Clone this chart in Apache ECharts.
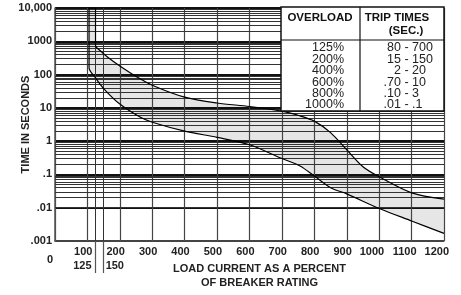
<!DOCTYPE html>
<html lang="en">
<head>
  <meta charset="UTF-8">
  <title>Trip curve</title>
  <style>
    html, body { margin: 0; padding: 0; background: #fff; }
    #chart { width: 461px; height: 295px; }
  </style>
  <script src="https://cdn.jsdelivr.net/npm/echarts@6/dist/echarts.min.js"></script>
</head>
<body>
  <div id="chart"></div>
  <script>
    // maximum trip time (load %, seconds)
    var upperCurve = [
      [105, 10000], [125, 10000], [125, 750], [140, 520], [160, 350], [200, 180], [250, 88],
      [300, 48], [400, 21], [500, 14], [600, 11], [700, 8], [750, 6], [800, 4], [850, 1.8],
      [900, 0.55], [950, 0.17], [1000, 0.085], [1100, 0.028], [1200, 0.018]
    ];
    // minimum trip time
    var lowerCurve = [
      [105, 10000], [105, 160], [125, 80], [150, 38], [200, 13], [262, 5.3], [300, 3.7],
      [400, 2.0], [500, 1.3], [600, 0.78], [700, 0.3], [756, 0.18], [800, 0.09], [850, 0.04],
      [900, 0.026], [1000, 0.0095], [1100, 0.004], [1200, 0.0017]
    ];
    var yTickLabels = ['.001', '.01', '.1', '1', '10', '100', '1000', '10,000'];
    var xTickValues = [100, 200, 300, 400, 500, 600, 700, 800, 900, 1000, 1100, 1200];
    var extraXTicks = [125, 150];
    var overloadLabels = ['125%', '200%', '400%', '600%', '800%', '1000%'];
    var tripMin = ['80', '15', '2', '.70', '.10', '.01'];
    var tripMax = ['700', '150', '20', '10', '3', '.1'];

    var font = 'Liberation Sans, Arial, sans-serif';
    var boldFont = 'bold 11px ' + font;

    // minor log grid lines + the 125 / 150 verticals
    var gridLines = [];
    for (var k = -3; k < 4; k++) {
      for (var m = 2; m < 10; m++) {
        gridLines.push({ yAxis: m * Math.pow(10, k) });
      }
    }
    extraXTicks.forEach(function (v) { gridLines.push({ xAxis: v }); });

    var chart = echarts.init(document.getElementById('chart'), null, { renderer: 'canvas' });
    chart.setOption({
      animation: false,
      backgroundColor: '#fff',
      grid: { left: 55, right: 17, top: 8, bottom: 54, outerBoundsMode: 'none', containLabel: false },
      xAxis: [{
        type: 'value', min: 0, max: 1200, interval: 100, z: 3,
        axisLine: { lineStyle: { color: '#555', width: 1.5 } },
        axisTick: { show: false },
        axisLabel: { show: false },
        splitLine: { lineStyle: { color: '#444', width: 1.2 } },
        name: 'LOAD CURRENT AS A PERCENT\nOF BREAKER RATING',
        nameLocation: 'middle', nameGap: 21, nameMoveOverlap: false,
        nameTextStyle: { fontFamily: font, fontWeight: 'bold', fontSize: 11, color: '#222', lineHeight: 14, padding: [0, 0, 0, 20] }
      }, {
        type: 'value', min: 0, max: 1200, position: 'bottom', z: 3,
        axisLine: { show: false },
        splitLine: { show: false },
        axisLabel: { show: false },
        axisTick: { show: true, customValues: extraXTicks, length: 32, lineStyle: { color: '#555', width: 1.2 } }
      }],
      yAxis: {
        type: 'log', logBase: 10, min: 0.001, max: 10000, z: 3,
        axisLine: { show: true, lineStyle: { color: '#555', width: 1.5 } },
        axisTick: { show: false },
        splitLine: { lineStyle: { color: '#111', width: 2 } },
        axisLabel: {
          margin: 3, fontFamily: font, fontWeight: 'bold', fontSize: 11, color: '#222',
          formatter: function (v) { return yTickLabels[Math.round(Math.log10(v)) + 3]; }
        },
        name: 'TIME IN SECONDS', nameLocation: 'middle', nameGap: 24, nameMoveOverlap: false,
        nameTextStyle: { fontFamily: font, fontWeight: 'bold', fontSize: 11, color: '#222' }
      },
      series: [{
        // band fill: grey under the max curve, white under the min curve
        type: 'line', data: upperCurve, smooth: 0.3, symbol: 'none', z: 1, silent: true,
        lineStyle: { width: 0 },
        areaStyle: { color: '#e6e6e6', opacity: 1, origin: 'start' }
      }, {
        type: 'line', data: lowerCurve, smooth: 0.3, symbol: 'none', z: 2, silent: true,
        lineStyle: { width: 0 },
        areaStyle: { color: '#fff', opacity: 1, origin: 'start' }
      }, {
        type: 'line', data: [], z: 4,
        markLine: {
          silent: true, symbol: 'none', label: { show: false },
          lineStyle: { color: '#333', width: 1, type: 'solid' },
          data: gridLines
        }
      }, {
        type: 'line', data: upperCurve, smooth: 0.3, symbol: 'none', z: 5,
        lineStyle: { color: '#000', width: 1.2 }
      }, {
        type: 'line', data: lowerCurve, smooth: 0.3, symbol: 'none', z: 5,
        lineStyle: { color: '#000', width: 1.2 }
      }]
    });

    // x tick labels, placed through the axis scale
    function px(v) { return chart.convertToPixel({ xAxisIndex: 0 }, v); }
    var bottom = chart.convertToPixel({ yAxisIndex: 0 }, 0.001);
    var g = [];
    function txt(x, y, s, align, f, fill) {
      g.push({ type: 'text', x: x, y: y, z: 100,
        style: { text: s, font: f || boldFont, fill: fill || '#222', align: align, verticalAlign: 'middle' } });
    }
    xTickValues.forEach(function (v) { txt(px(v) + 5, bottom + 11, String(v), 'right'); });
    txt(px(0) - 5, bottom + 18.5, '0', 'center');
    txt(px(extraXTicks[0]) - 4, bottom + 25, String(extraXTicks[0]), 'right');
    txt(px(extraXTicks[1]) + 2, bottom + 25, String(extraXTicks[1]), 'left');

    // overload table on top of the plot
    g.push({ type: 'rect', z: 100, shape: { x: 281, y: 7, width: 163, height: 104 },
      style: { fill: '#fff', stroke: '#111', lineWidth: 1.5 } });
    g.push({ type: 'line', z: 100, shape: { x1: 281, y1: 40, x2: 444, y2: 40 }, style: { stroke: '#111', lineWidth: 1.2 } });
    g.push({ type: 'line', z: 100, shape: { x1: 360, y1: 7, x2: 360, y2: 111 }, style: { stroke: '#111', lineWidth: 1.2 } });
    txt(320, 18, 'OVERLOAD', 'center', 'bold 11.5px ' + font, '#111');
    txt(397, 18, 'TRIP TIMES', 'center', 'bold 11.5px ' + font, '#111');
    txt(406, 31, '(SEC.)', 'center', 'bold 11.5px ' + font, '#111');
    overloadLabels.forEach(function (lbl, i) {
      var y = 48 + i * 11.4;
      txt(344, y, lbl, 'right', '12.5px ' + font);
      txt(401, y, tripMin[i], 'right', '12.5px ' + font);
      txt(401, y, ' - ' + tripMax[i], 'left', '12.5px ' + font);
    });

    chart.setOption({ graphic: { elements: g } });
  </script>
</body>
</html>
